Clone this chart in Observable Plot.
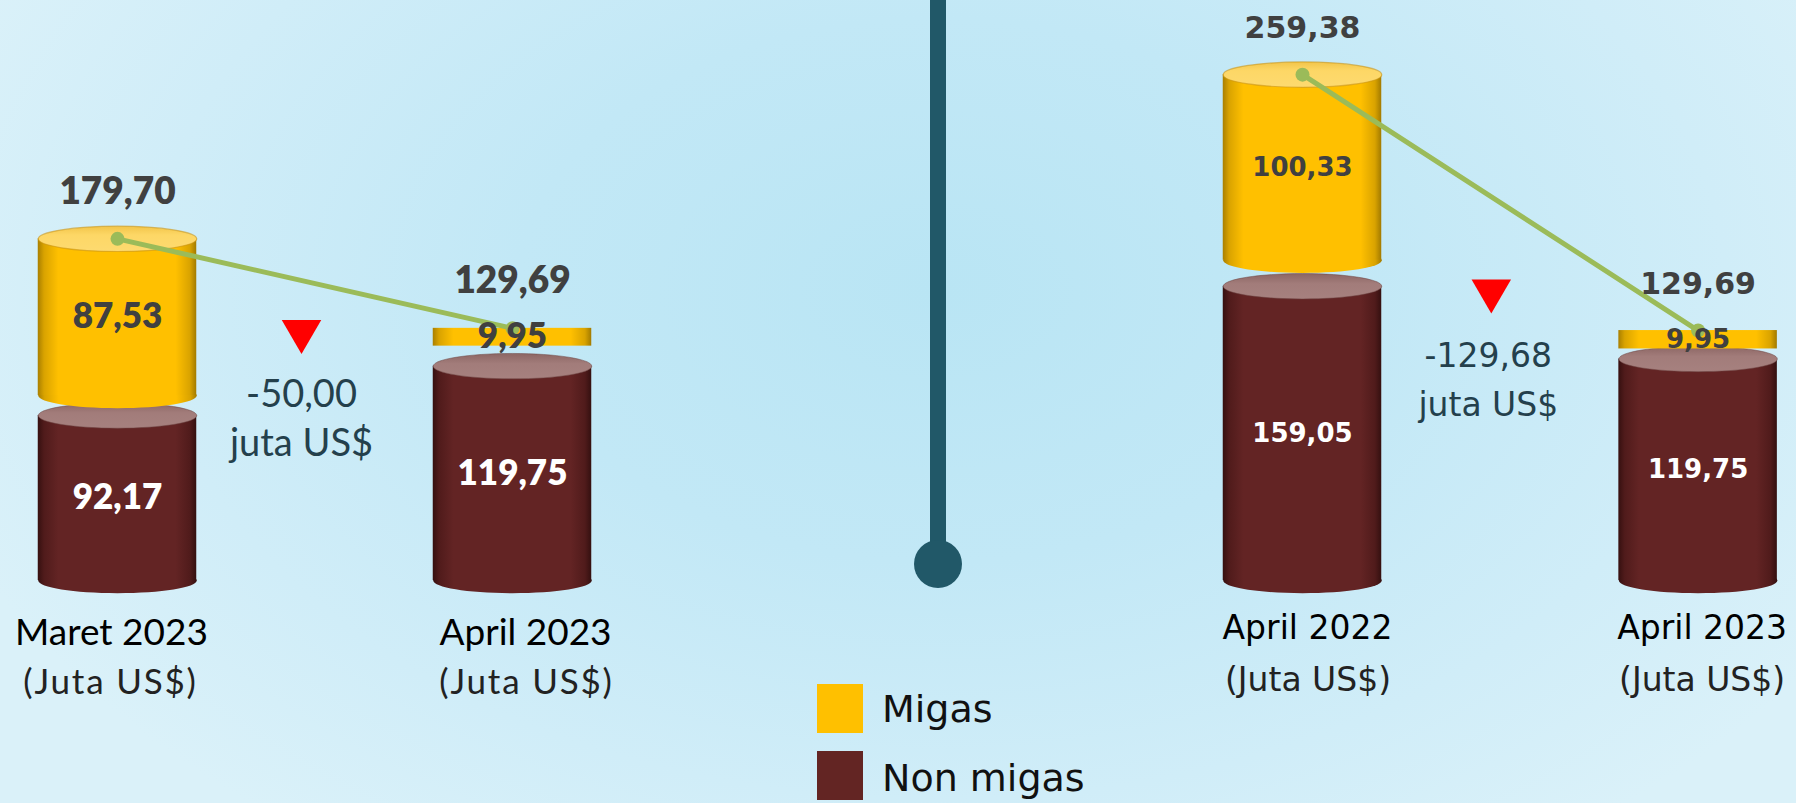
<!DOCTYPE html>
<html>
<head>
<meta charset="utf-8">
<script src="https://cdn.jsdelivr.net/npm/d3@7"></script>
<script src="https://cdn.jsdelivr.net/npm/@observablehq/plot@0.6"></script>
<style>
  html, body { margin: 0; padding: 0; }
  #wrap {
    position: relative; width: 1796px; height: 803px; overflow: hidden;
    background: radial-gradient(ellipse 1050px 680px at 938px 290px, #b9e5f4 0%, #c2e8f6 40%, #d0edf8 75%, #daf1f9 100%);
  }
  .panel { position: absolute; left: 0; top: 0; }
  .unitL text { letter-spacing: 1.8px; }
  #divider { position: absolute; left: 930px; top: 0; width: 16px; height: 550px; background: #215868; }
  #knob { position: absolute; left: 914px; top: 540px; width: 48px; height: 48px; border-radius: 50%; background: #215868; }
  #legend { position: absolute; left: 817px; top: 684px; font-family: "DejaVu Sans", Verdana, sans-serif; font-size: 38px; color: #111; }
  .sw { position: absolute; width: 46px; height: 49px; }
  .lab { position: absolute; left: 65px; line-height: 38px; white-space: nowrap; }
</style>
</head>
<body>
<svg width="0" height="0" style="position:absolute">
  <defs>
    <linearGradient id="gMig" x1="0" x2="1" y1="0" y2="0">
      <stop offset="0" stop-color="#a97f00"/>
      <stop offset="0.04" stop-color="#d9a300"/>
      <stop offset="0.13" stop-color="#ffc000"/>
      <stop offset="0.87" stop-color="#ffc000"/>
      <stop offset="0.96" stop-color="#d9a300"/>
      <stop offset="1" stop-color="#a27a00"/>
    </linearGradient>
    <linearGradient id="gMigTop" x1="0" x2="0" y1="0" y2="1">
      <stop offset="0" stop-color="#f2c54a"/>
      <stop offset="0.35" stop-color="#fdd766"/>
      <stop offset="1" stop-color="#fdda70"/>
    </linearGradient>
    <linearGradient id="gNon" x1="0" x2="1" y1="0" y2="0">
      <stop offset="0" stop-color="#361010"/>
      <stop offset="0.04" stop-color="#501b1b"/>
      <stop offset="0.13" stop-color="#632424"/>
      <stop offset="0.87" stop-color="#632424"/>
      <stop offset="0.96" stop-color="#501b1b"/>
      <stop offset="1" stop-color="#341010"/>
    </linearGradient>
    <linearGradient id="gNonTop" x1="0" x2="0" y1="0" y2="1">
      <stop offset="0" stop-color="#8c6664"/>
      <stop offset="0.4" stop-color="#a27c7a"/>
      <stop offset="1" stop-color="#a6817f"/>
    </linearGradient>
  </defs>
</svg>
<div id="wrap">
  <div id="left" class="panel"></div>
  <div id="right" class="panel"></div>
  <div id="divider"></div>
  <div id="knob"></div>
  <div id="legend"></div>
</div>
<script>
// ---------------- DATA ----------------
const periods   = ["Maret 2023", "April 2023", "April 2022", "April 2023"];
const panelOf   = [0, 0, 1, 1];
const migas     = [87.53, 9.95, 100.33, 9.95];
const nonMigas  = [92.17, 119.75, 159.05, 119.75];
const totals    = [179.70, 129.69, 259.38, 129.69];
const changes   = [-50.00, -129.68];
const changeUnit = "juta US$";
const unitLabel  = "(Juta US$)";
const series       = ["Migas", "Non migas"];
const seriesColors = ["#ffc000", "#632523"];

// ---------------- STYLE / LAYOUT ----------------
const panelStyles = [
  { el: "#left", font: "Lato", first: 117, step: 197.5, bw: 158.5, base: 580, k: 1.79, gap: 20, thinGap: 20,
    totalSize: 37, segSize: 35, deltaSize: 38, catSize: 37, unitSize: 35, unitClass: "unitL",
    valueWeight: 800, deltaWeight: "normal", unitWeight: "normal", totalDy: -47,
    catDx: [-6, 13], unitDx: [-7, 14], catDy: 64, unitDy: 113,
    triY: 336.6, triDx: -13.5, deltaY: 380, deltaUnitY: 429, deltaDx: -13.5 },
  { el: "#right", font: "DejaVu Sans", first: 1302, step: 197.8, bw: 158.5, base: 580, k: 1.85, gap: 26, thinGap: 10,
    totalSize: 30, segSize: 26, deltaSize: 33, catSize: 33, unitSize: 33, unitClass: "unitR",
    valueWeight: "bold", deltaWeight: "normal", unitWeight: "normal", totalDy: -46,
    catDx: [5, 4], unitDx: [5.5, 4], catDy: 58, unitDy: 110,
    triY: 296, triDx: -9, deltaY: 343, deltaUnitY: 392, deltaDx: -12 }
];
const H = 803, W = 1796;
const valueColor = "#404040";
const lineColor = "#9bbb59";

const fmt = d3.formatLocale({decimal: ",", thousands: ".", grouping: [3], currency: ["", ""], minus: "-"}).format(".2f");

const ellipse = ratio => ({
  draw(ctx, size) {
    const rx = Math.sqrt(size / Math.PI), ry = rx * ratio, c = 0.5523;
    ctx.moveTo(rx, 0);
    ctx.bezierCurveTo(rx, c * ry, c * rx, ry, 0, ry);
    ctx.bezierCurveTo(-c * rx, ry, -rx, c * ry, -rx, 0);
    ctx.bezierCurveTo(-rx, -c * ry, -c * rx, -ry, 0, -ry);
    ctx.bezierCurveTo(c * rx, -ry, rx, -c * ry, rx, 0);
    ctx.closePath();
  }
});
const downTriangle = {
  draw(ctx, size) {
    const r = Math.sqrt(size / Math.PI), h = r * 0.86;
    ctx.moveTo(-r, -h); ctx.lineTo(r, -h); ctx.lineTo(0, h); ctx.closePath();
  }
};
const cap = ellipse(0.16);

const rows = periods.map((p, i) => ({
  key: p, period: p, panel: panelOf[i],
  migas: migas[i], nonMigas: nonMigas[i], total: totals[i]
}));

panelStyles.forEach((S, pi) => {
  const data = rows.filter(r => r.panel === pi);
  const change = changes[pi];
  const domain = [data[0].key, "Δ", data[1].key];
  const pad = 1 - S.bw / S.step;
  const x0 = S.first - S.bw / 2;
  const x1 = x0 + S.step * (3 - pad);
  const R = S.bw / 2;
  const big = d => d.migas >= 20;
  // visual separation between the two stacked cylinders, expressed in value units
  const lift = d => (big(d) ? S.gap : S.thinGap) / S.k;
  const migBase = d => d.nonMigas + lift(d);
  const migTop = d => d.nonMigas + d.migas + lift(d);
  const totalY = d => d.total + lift(d);
  const txt = {fontFamily: S.font};

  const catMarks = data.flatMap((r, i) => [
    Plot.text([r], {x: "key", frameAnchor: "bottom", dy: S.catDy, dx: S.catDx[i], text: "period",
      fontSize: S.catSize, fill: "#000", ...txt}),
    Plot.text([r], {x: "key", frameAnchor: "bottom", dy: S.unitDy, dx: S.unitDx[i], text: () => unitLabel,
      fontSize: S.unitSize, fontWeight: S.unitWeight, fill: "#222", className: S.unitClass, ...txt})
  ]);

  const chart = Plot.plot({
    width: W, height: H,
    marginTop: 0, marginBottom: H - S.base, marginLeft: 0, marginRight: 0,
    style: {background: "transparent", overflow: "visible"},
    x: {type: "band", domain, range: [x0, x1], paddingInner: pad, paddingOuter: 0, round: false, axis: null},
    y: {domain: [0, S.base / S.k], axis: null},
    marks: [
      // Non migas cylinder
      Plot.dot(data, {x: "key", y: () => 0, r: R, symbol: cap, fill: "url(#gNon)"}),
      Plot.barY(data, {x: "key", y1: () => 0, y2: "nonMigas", fill: "url(#gNon)"}),
      Plot.dot(data, {x: "key", y: "nonMigas", r: R, symbol: cap, fill: "url(#gNonTop)",
        stroke: "#6e4644", strokeWidth: 1, strokeOpacity: 0.5}),
      // Migas cylinder
      Plot.dot(data, {filter: big, x: "key", y: migBase, r: R, symbol: cap, fill: "url(#gMig)"}),
      Plot.barY(data, {x: "key", y1: migBase, y2: migTop, fill: "url(#gMig)"}),
      Plot.dot(data, {filter: big, x: "key", y: migTop, r: R, symbol: cap, fill: "url(#gMigTop)",
        stroke: "#c99416", strokeWidth: 1.2, strokeOpacity: 0.6}),
      // Total line
      Plot.line(data, {x: "key", y: totalY, stroke: lineColor, strokeWidth: 5}),
      Plot.dot(data, {x: "key", y: totalY, r: 7, fill: lineColor}),
      // Value labels
      Plot.text(data, {x: "key", y: totalY, dy: S.totalDy, text: d => fmt(d.total),
        fontSize: S.totalSize, fontWeight: S.valueWeight, fill: valueColor, ...txt}),
      Plot.text(data, {x: "key", y: d => d.nonMigas + d.migas / 2 + lift(d), text: d => fmt(d.migas),
        fontSize: S.segSize, fontWeight: S.valueWeight, fill: valueColor, ...txt}),
      Plot.text(data, {x: "key", y: d => d.nonMigas / 2, text: d => fmt(d.nonMigas),
        fontSize: S.segSize, fontWeight: S.valueWeight, fill: "#ffffff", ...txt}),
      // Change annotation
      Plot.dot([change], {x: () => "Δ", frameAnchor: "top", dy: S.triY, dx: S.triDx, r: 19.75,
        symbol: downTriangle, fill: "#ff0000"}),
      Plot.text([change], {x: () => "Δ", frameAnchor: "top", dy: S.deltaY, dx: S.deltaDx, text: d => fmt(d),
        fontSize: S.deltaSize, fontWeight: S.deltaWeight, fill: "#24404c", ...txt}),
      Plot.text([change], {x: () => "Δ", frameAnchor: "top", dy: S.deltaUnitY, dx: S.deltaDx, text: () => changeUnit,
        fontSize: S.deltaSize, fontWeight: S.deltaWeight, fill: "#24404c", ...txt}),
      ...catMarks
    ]
  });
  document.querySelector(S.el).appendChild(chart);
});

// Legend
const legend = d3.select("#legend");
series.forEach((s, i) => {
  legend.append("div").attr("class", "sw").style("left", "0px").style("top", `${i * 67}px`).style("background", seriesColors[i]);
  legend.append("div").attr("class", "lab").style("top", `${i * 69 + 6}px`).text(s);
});
</script>
</body>
</html>
